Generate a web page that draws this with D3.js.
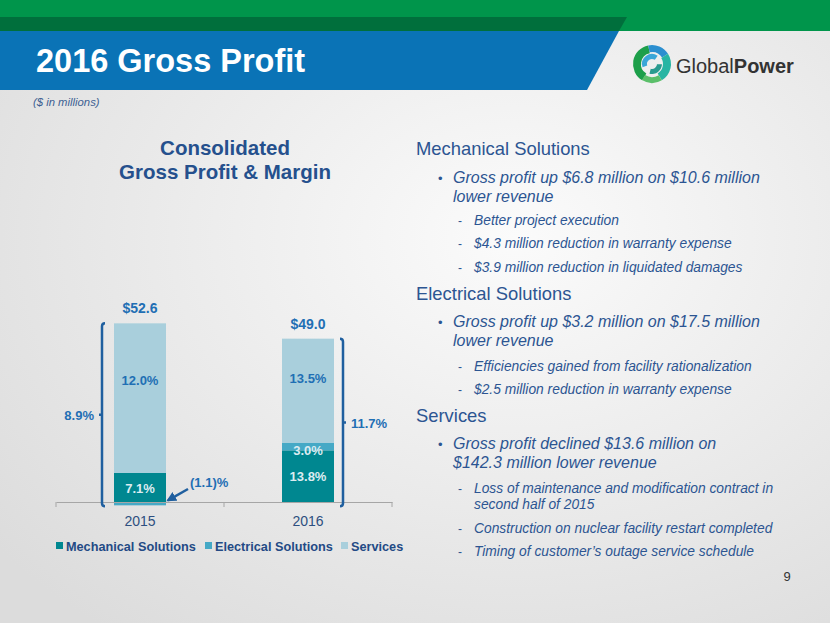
<!DOCTYPE html>
<html>
<head>
<meta charset="utf-8">
<script src="https://cdn.jsdelivr.net/npm/d3@7"></script>
<style>
body { margin: 0; overflow: hidden; }
svg { display: block; font-family: Arial, "Liberation Sans", sans-serif; }
</style>
</head>
<body>
<svg id="slide"></svg>
<script>
const years = ["2015", "2016"];
const mechanical = [8.7, 15.5];
const electrical = [-1.0, 2.2];
const services = [44.9, 31.3];
const totals = [52.6, 49.0];
const mechMargin = ["7.1%", "13.8%"];
const elecMargin = ["(1.1)%", "3.0%"];
const servMargin = ["12.0%", "13.5%"];
const totalMargin = ["8.9%", "11.7%"];
const seriesNames = ["Mechanical Solutions", "Electrical Solutions", "Services"];
const seriesColors = ["#008790", "#45a9c6", "#a9cfdc"];

const blue = "#1f6fb4";
const navy = "#2c5592";

const svg = d3.select("#slide")
.attr("width", 830)
.attr("height", 623);

// background
const defs = svg.append("defs");
const bg = defs.append("radialGradient").attr("id", "bg")
.attr("cx", "62%").attr("cy", "38%").attr("r", "80%");
bg.append("stop").attr("offset", "0%").attr("stop-color", "#fbfbfb");
bg.append("stop").attr("offset", "100%").attr("stop-color", "#dcdcdc");
svg.append("rect").attr("width", 830).attr("height", 623).attr("fill", "url(#bg)");

// header bands
svg.append("rect").attr("x", 0).attr("y", 0).attr("width", 830).attr("height", 31).attr("fill", "#00954b");
svg.append("path").attr("d", "M0,17 L627,17 L619,31 L0,31 Z").attr("fill", "#006f3c");
svg.append("path").attr("d", "M0,31 L619,31 L587,90 L0,90 Z").attr("fill", "#0a73b6");
svg.append("text").attr("x", 36).attr("y", 72)
.attr("fill", "white").style("font-size", "32.5px").style("font-weight", "bold")
.text("2016 Gross Profit");
svg.append("text").attr("x", 33).attr("y", 106)
.attr("fill", "#3d5f92").style("font-size", "11.3px").style("font-style", "italic")
.text("($ in millions)");

// logo
const logo = svg.append("g").attr("transform", "translate(652,64)");
const logoArcs = [
{a0: -2.6, a1: -0.2, r0: 11, r1: 19, c: "#1d9f4a"},
{a0: -0.2, a1: 1.0, r0: 12, r1: 19, c: "#2b8fd0"},
{a0: 1.0, a1: 2.6, r0: 11, r1: 19, c: "#27b5a3"},
{a0: 2.6, a1: 3.7, r0: 13, r1: 19, c: "#5bbf6a"},
{a0: -1.9, a1: 0.6, r0: 5, r1: 10, c: "#3aa6d8"},
{a0: 1.6, a1: 3.4, r0: 5, r1: 10, c: "#2a9b8f"}
];
logo.selectAll("path").data(logoArcs).enter().append("path")
.attr("d", d => d3.arc()({innerRadius: d.r0, outerRadius: d.r1, startAngle: d.a0, endAngle: d.a1}))
.attr("fill", d => d.c);
const brand = svg.append("text").attr("x", 676).attr("y", 73)
.attr("fill", "#333").style("font-size", "20px");
brand.append("tspan").text("Global");
brand.append("tspan").style("font-weight", "bold").text("Power");

// chart title
svg.append("text").attr("x", 225).attr("y", 155).attr("text-anchor", "middle")
.attr("fill", "#25508d").style("font-size", "20.5px").style("font-weight", "bold")
.text("Consolidated");
svg.append("text").attr("x", 225).attr("y", 179).attr("text-anchor", "middle")
.attr("fill", "#25508d").style("font-size", "20.5px").style("font-weight", "bold")
.text("Gross Profit & Margin");

// chart
const x = d3.scaleBand().domain(years).range([56, 392]).padding(0);
const y = d3.scaleLinear().domain([0, 60]).range([502, 302]);
const barW = 52;
const bx = d => x(d) + x.bandwidth() / 2 - barW / 2;

const rows = years.map((yr, i) => ({
year: yr,
"Mechanical Solutions": mechanical[i],
"Electrical Solutions": electrical[i],
"Services": services[i]
}));
const stack = d3.stack().keys(seriesNames).offset(d3.stackOffsetDiverging)(rows);

svg.append("g").selectAll("g")
.data(stack)
.enter().append("g")
.attr("fill", (d, i) => seriesColors[i])
.selectAll("rect")
.data(d => d)
.enter().append("rect")
.attr("x", d => bx(d.data.year))
.attr("y", d => y(d[1]))
.attr("width", barW)
.attr("height", d => y(d[0]) - y(d[1]));

// axis
const axis = svg.append("g").attr("transform", "translate(0,502)");
axis.call(d3.axisBottom(x).tickSize(0).tickPadding(14));
axis.select(".domain").attr("stroke", "#a6a6a6");
axis.selectAll(".tick text").attr("fill", "#2d4f80").style("font-size", "14px")
.style("font-family", "Arial, 'Liberation Sans', sans-serif");
axis.selectAll(".edge").data([56, 56 + x.step(), 56 + 2 * x.step()]).enter()
.append("line").attr("class", "edge")
.attr("x1", d => d).attr("x2", d => d).attr("y1", 0).attr("y2", 5)
.attr("stroke", "#a6a6a6");

// segment labels
const mid = (a, b) => (y(a) + y(b)) / 2;
const labelSets = [
{vals: mechMargin, at: i => mid(0, mechanical[i]), col: "#dcecf1"},
{vals: servMargin, at: i => y(mechanical[i] + Math.max(0, electrical[i]) + services[i] * 0.62), col: blue}
];
labelSets.forEach(s => {
svg.append("g").selectAll("text").data(years).enter().append("text")
.attr("x", d => x(d) + x.bandwidth() / 2)
.attr("y", (d, i) => s.at(i) + 5)
.attr("text-anchor", "middle").attr("fill", s.col)
.style("font-size", "13px").style("font-weight", "bold")
.text((d, i) => s.vals[i]);
});
// electrical labels
svg.append("text").attr("x", x("2016") + x.bandwidth() / 2)
.attr("y", y(mechanical[1] + electrical[1]) + 12)
.attr("text-anchor", "middle").attr("fill", "#dcecf1")
.style("font-size", "13px").style("font-weight", "bold").text(elecMargin[1]);
svg.append("text").attr("x", 190).attr("y", 487)
.attr("fill", blue).style("font-size", "13px").style("font-weight", "bold")
.text(elecMargin[0]);
defs.append("marker").attr("id", "arrow").attr("viewBox", "0 0 10 10")
.attr("refX", 8).attr("refY", 5).attr("markerWidth", 4).attr("markerHeight", 4)
.attr("orient", "auto")
.append("path").attr("d", "M0,0 L10,5 L0,10 Z").attr("fill", "#1f5f9f");
svg.append("line").attr("x1", 188).attr("y1", 489).attr("x2", 168)
.attr("y2", y(electrical[0]) - 5)
.attr("stroke", "#1f5f9f").attr("stroke-width", 2.5)
.attr("marker-end", "url(#arrow)");

// total labels
svg.append("g").selectAll("text").data(years).enter().append("text")
.attr("x", d => x(d) + x.bandwidth() / 2)
.attr("y", (d, i) => y(mechanical[i] + Math.max(0, electrical[i]) + services[i]) - 10)
.attr("text-anchor", "middle").attr("fill", blue)
.style("font-size", "14px").style("font-weight", "bold")
.text((d, i) => "$" + totals[i].toFixed(1));

// brackets
const bottom = y(d3.min(electrical)) + 1;
years.forEach((yr, i) => {
const top = y(mechanical[i] + Math.max(0, electrical[i]) + services[i]);
const left = i === 0;
const bxp = left ? bx(yr) - 12 : bx(yr) + barW + 9;
const hook = left ? 3 : -3;
const midY = (top + bottom) / 2;
svg.append("path")
.attr("d", `M${bxp + hook},${top} Q${bxp},${top} ${bxp},${top + 3} L${bxp},${bottom - 3} Q${bxp},${bottom} ${bxp + hook},${bottom}` +
` M${bxp},${midY} L${bxp - hook},${midY}`)
.attr("fill", "none").attr("stroke", "#1f5f9f").attr("stroke-width", 2.5);
svg.append("text")
.attr("x", left ? bxp - 8 : bxp + 8).attr("y", midY + 5)
.attr("text-anchor", left ? "end" : "start").attr("fill", blue)
.style("font-size", "13px").style("font-weight", "bold")
.text(totalMargin[i]);
});

// legend
const legendX = [56, 205, 341];
const legend = svg.append("g").selectAll("g").data(seriesNames).enter().append("g")
.attr("transform", (d, i) => `translate(${legendX[i]},546)`);
legend.append("rect").attr("x", 0).attr("y", -4).attr("width", 7).attr("height", 7)
.attr("fill", (d, i) => seriesColors[i]);
legend.append("text").attr("x", 10).attr("y", 5)
.attr("fill", "#234a85").style("font-size", "12.7px").style("font-weight", "bold")
.text(d => d);

// commentary
const notes = [
{lvl: 0, y: 155, t: "Mechanical Solutions"},
{lvl: 1, y: 183, t: "Gross profit up $6.8 million on $10.6 million"},
{lvl: 1.5, y: 202, t: "lower revenue"},
{lvl: 2, y: 225, t: "Better project execution"},
{lvl: 2, y: 248, t: "$4.3 million reduction in warranty expense"},
{lvl: 2, y: 272, t: "$3.9 million reduction in liquidated damages"},
{lvl: 0, y: 300, t: "Electrical Solutions"},
{lvl: 1, y: 327, t: "Gross profit up $3.2 million on $17.5 million"},
{lvl: 1.5, y: 346, t: "lower revenue"},
{lvl: 2, y: 371, t: "Efficiencies gained from facility rationalization"},
{lvl: 2, y: 394, t: "$2.5 million reduction in warranty expense"},
{lvl: 0, y: 422, t: "Services"},
{lvl: 1, y: 449, t: "Gross profit declined $13.6 million on"},
{lvl: 1.5, y: 468, t: "$142.3 million lower revenue"},
{lvl: 2, y: 493, t: "Loss of maintenance and modification contract in"},
{lvl: 2.5, y: 509, t: "second half of 2015"},
{lvl: 2, y: 533, t: "Construction on nuclear facility restart completed"},
{lvl: 2, y: 556, t: "Timing of customer\u2019s outage service schedule"}
];
const noteG = svg.append("g").attr("fill", navy);
notes.forEach(n => {
if (n.lvl === 0) {
noteG.append("text").attr("x", 416).attr("y", n.y).style("font-size", "18.4px").text(n.t);
} else if (n.lvl < 2) {
if (n.lvl === 1) noteG.append("text").attr("x", 438).attr("y", n.y).style("font-size", "13px").text("\u2022");
noteG.append("text").attr("x", 453).attr("y", n.y).style("font-size", "16px").style("font-style", "italic").text(n.t);
} else {
if (n.lvl === 2) noteG.append("text").attr("x", 458).attr("y", n.y).style("font-size", "12px").text("-");
noteG.append("text").attr("x", 474).attr("y", n.y).style("font-size", "13.8px").style("font-style", "italic").text(n.t);
}
});

svg.append("text").attr("x", 787).attr("y", 581).attr("text-anchor", "middle")
.attr("fill", "#333").style("font-size", "13px").text("9");
</script>
</body>
</html>
